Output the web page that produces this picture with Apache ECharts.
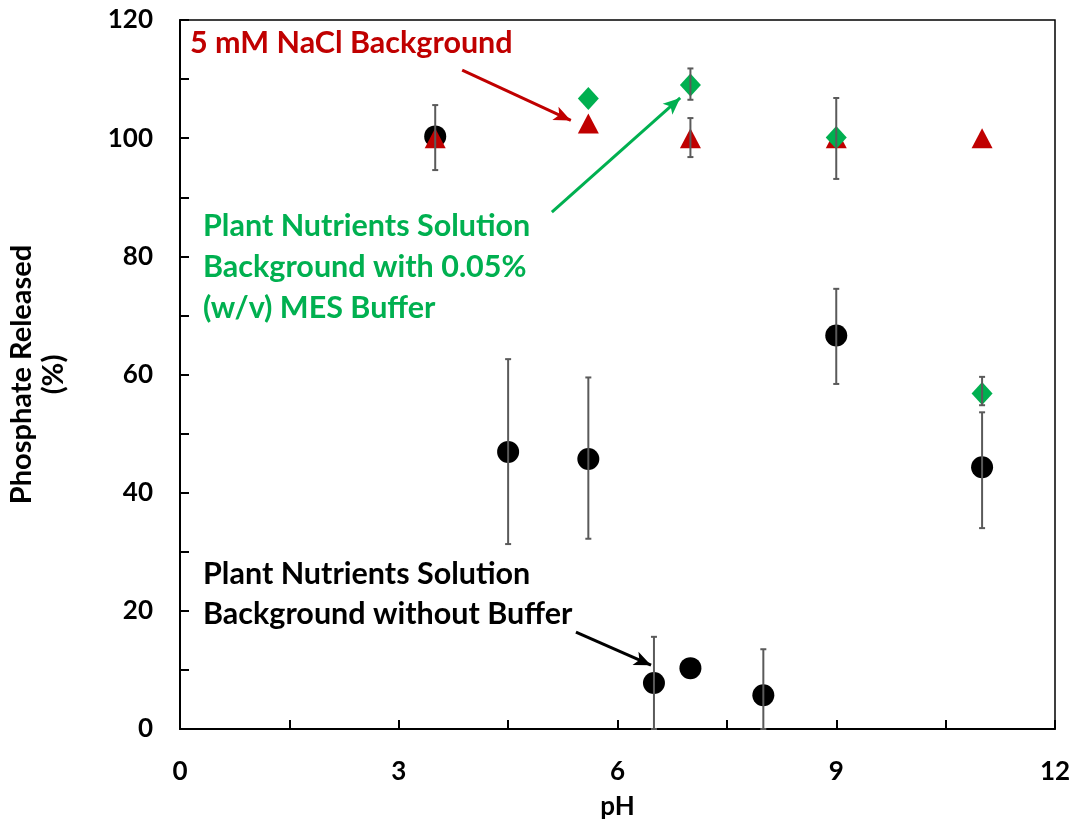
<!DOCTYPE html>
<html><head><meta charset="utf-8">
<script src="https://cdn.jsdelivr.net/npm/echarts@6/dist/echarts.min.js"></script>
<style>html,body{margin:0;padding:0;background:#fff}#c{width:1082px;height:832px}</style>
</head><body><div id="c"></div>
<script>
// Plant nutrients solution background without buffer (black circles)
const blackX  = [3.5, 4.5, 5.6, 6.5, 7.0, 8.0, 9.0, 11.0];
const blackY  = [100.3, 46.9, 45.7, 7.8, 10.3, 5.7, 66.6, 44.3];
const blackLo = [94.6, 31.3, 32.2, 0, 10.3, 0, 58.4, 34.0];
const blackHi = [105.6, 62.6, 59.5, 15.6, 10.3, 13.5, 74.5, 53.6];
// 5 mM NaCl background (red triangles)
const redX  = [3.5, 5.6, 7.0, 9.0, 11.0];
const redY  = [100, 102.5, 100, 100, 100];
const redLo = [100, 102.5, 96.8, 100, 100];
const redHi = [100, 102.5, 103.4, 100, 100];
// Plant nutrients solution with 0.05% MES buffer (green diamonds)
const greenX  = [5.6, 7.0, 9.0, 11.0];
const greenY  = [106.7, 109.0, 100.1, 56.8];
const greenLo = [106.7, 106.5, 93.1, 54.8];
const greenHi = [106.7, 111.8, 106.8, 59.6];

const xTickLabels = [0, 3, 6, 9, 12];
const yTickLabels = [0, 20, 40, 60, 80, 100, 120];

const labelRed = '5 mM NaCl Background';
const labelGreen = 'Plant Nutrients Solution\nBackground with 0.05%\n(w/v) MES Buffer';
const labelBlack = 'Plant Nutrients Solution\nBackground without Buffer';

const FONT = 'Lato';
const RED = '#C00000', GREEN = '#00B050', BLACK = '#000000', ERR = '#5a5a5a';

function pts(xs, ys) { return xs.map((x, i) => [x, ys[i]]); }
function errData(xs, lo, hi) { return xs.map((x, i) => [x, lo[i], hi[i]]); }

function errSeries(xs, lo, hi) {
  return {
    type: 'custom',
    z: 10,
    silent: true,
    data: errData(xs, lo, hi),
    renderItem: function (params, api) {
      const x = api.value(0), l = api.value(1), h = api.value(2);
      if (l === h) return null;
      const p1 = api.coord([x, l]), p2 = api.coord([x, h]);
      const cw = 3;
      const st = { stroke: ERR, lineWidth: 2 };
      return {
        type: 'group',
        children: [
          { type: 'line', shape: { x1: p1[0], y1: p1[1], x2: p2[0], y2: p2[1] }, style: st },
          { type: 'line', shape: { x1: p1[0] - cw, y1: p1[1], x2: p1[0] + cw, y2: p1[1] }, style: st },
          { type: 'line', shape: { x1: p2[0] - cw, y1: p2[1], x2: p2[0] + cw, y2: p2[1] }, style: st }
        ]
      };
    }
  };
}

function arrow(color, from, to) {
  return {
    type: 'scatter', data: [], silent: true,
    markLine: {
      silent: true,
      symbol: ['none', 'arrow'],
      symbolSize: [11, 17],
      label: { show: false },
      lineStyle: { color: color, width: 3, type: 'solid' },
      data: [[{ coord: from }, { coord: to }]]
    }
  };
}

const chart = echarts.init(document.getElementById('c'), null, { renderer: 'canvas' });
chart.setOption({
  animation: false,
  backgroundColor: '#fff',
  grid: { left: 180, right: 27, top: 20, bottom: 103, show: true, borderColor: '#000', borderWidth: 1.5,
          containLabel: false, outerBoundsMode: 'none' },
  xAxis: {
    type: 'value', min: 0, max: 12, interval: 1.5,
    name: 'pH', nameLocation: 'middle', nameGap: 65,
    nameTextStyle: { fontFamily: FONT, fontWeight: 'bold', fontSize: 26, color: '#000' },
    axisLine: { show: true, lineStyle: { color: '#000', width: 2 } },
    axisTick: { show: true, inside: true, length: 9, lineStyle: { color: '#000', width: 2 } },
    splitLine: { show: false },
    axisLabel: {
      margin: 30, fontFamily: FONT, fontWeight: 'bold', fontSize: 26, color: '#000',
      formatter: v => xTickLabels.indexOf(v) >= 0 ? String(v) : ''
    }
  },
  yAxis: {
    type: 'value', min: 0, max: 120, interval: 10,
    name: 'Phosphate Released\n(%)', nameLocation: 'middle', nameGap: 110, nameRotate: 90,
    nameTextStyle: { fontFamily: FONT, fontWeight: 'bold', fontSize: 29, color: '#000', lineHeight: 32, align: 'center' },
    axisLine: { show: true, lineStyle: { color: '#000', width: 2 } },
    axisTick: { show: true, inside: true, length: 9, lineStyle: { color: '#000', width: 2 } },
    splitLine: { show: false },
    axisLabel: {
      margin: 27, fontFamily: FONT, fontWeight: 'bold', fontSize: 26, color: '#000',
      formatter: v => yTickLabels.indexOf(v) >= 0 ? String(v) : ''
    }
  },
  series: [
    { type: 'scatter', name: 'black', z: 3, data: pts(blackX, blackY), symbol: 'circle', symbolSize: 22,
      itemStyle: { color: BLACK, opacity: 1 } },
    { type: 'scatter', name: 'red', z: 4, data: pts(redX, redY), symbol: 'triangle', symbolSize: [21, 20],
      itemStyle: { color: RED, opacity: 1 } },
    { type: 'scatter', name: 'green', z: 5, data: pts(greenX, greenY), symbol: 'diamond', symbolSize: [21, 23],
      itemStyle: { color: GREEN, opacity: 1 } },
    errSeries(blackX, blackLo, blackHi),
    errSeries(redX, redLo, redHi),
    errSeries(greenX, greenLo, greenHi),
    arrow(RED, [3.87, 111.5], [5.36, 103.0]),
    arrow(GREEN, [5.10, 87.5], [6.86, 106.8]),
    arrow(BLACK, [5.43, 16.4], [6.46, 10.8])
  ],
  graphic: [
    { type: 'text', left: 190, top: 28, style: { text: labelRed, fill: RED, font: 'bold 30.5px ' + FONT } },
    { type: 'text', left: 203, top: 206, style: { text: labelGreen, fill: GREEN, font: 'bold 30.5px ' + FONT, lineHeight: 41 } },
    { type: 'text', left: 203, top: 554, style: { text: labelBlack, fill: BLACK, font: 'bold 30.5px ' + FONT, lineHeight: 40 } }
  ]
});
</script></body></html>
